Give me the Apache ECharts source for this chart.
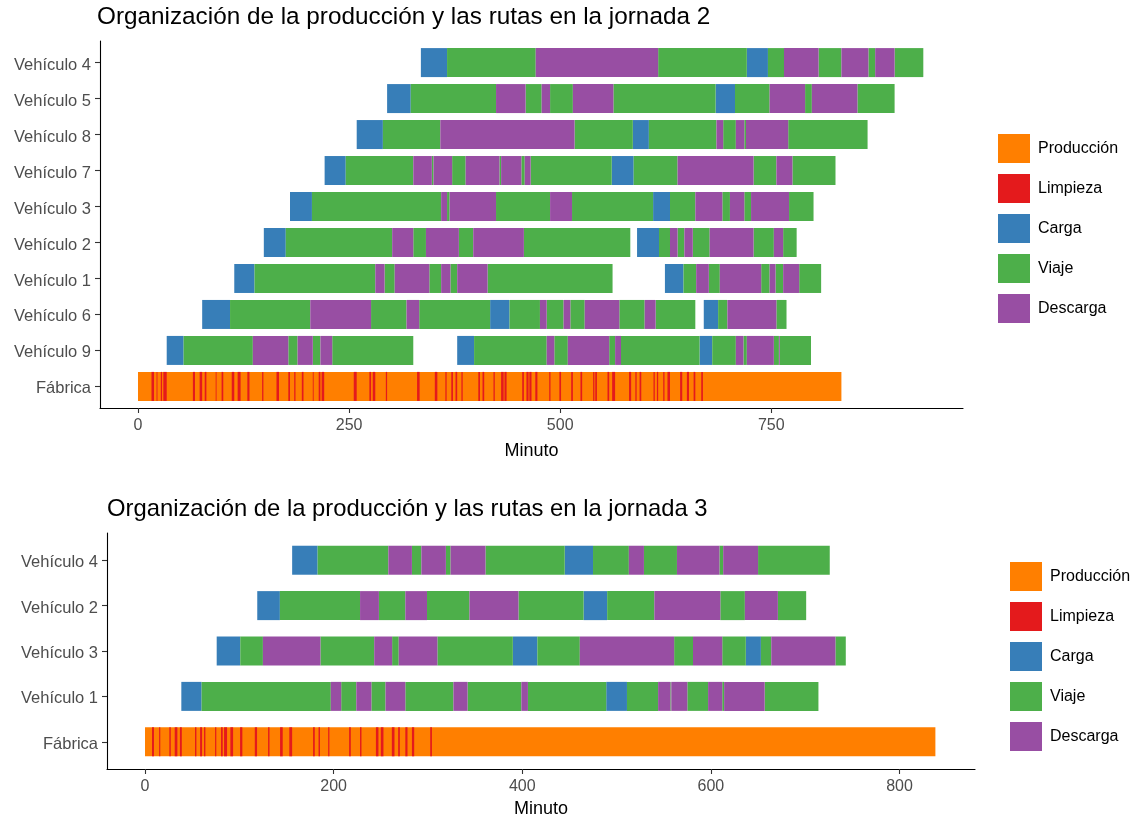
<!DOCTYPE html>
<html>
<head>
<meta charset="utf-8">
<script src="https://cdn.jsdelivr.net/npm/echarts@6/dist/echarts.min.js"></script>
<style>
  html, body { margin: 0; padding: 0; background: #fff; }
  #chart { width: 1134px; height: 822px; }
</style>
</head>
<body>
<div id="chart"></div>
<script>
// Activity types and their colours
const typeNames = ['Producción', 'Limpieza', 'Carga', 'Viaje', 'Descarga'];
const typeColors = ['#FF7F00', '#E41A1C', '#377EB8', '#4DAF4A', '#984EA3'];
// Route codes: C = Carga, V = Viaje, D = Descarga, _ = sin actividad
const codeToType = { C: 'Carga', V: 'Viaje', D: 'Descarga' };

// ---------- Jornada 2 ----------
const rowsJ2 = ['Vehículo 4', 'Vehículo 5', 'Vehículo 8', 'Vehículo 7', 'Vehículo 3',
                'Vehículo 2', 'Vehículo 1', 'Vehículo 6', 'Vehículo 9', 'Fábrica'];
// Each vehicle: change times (minutes) and the activity code between consecutive times
const j2v4 = [335, 366, 471, 616, 721, 746, 765, 806, 833, 865, 873, 896, 930];
const j2v4c = 'CVDVCVDVDVDV';
const j2v5 = [295, 323, 424, 459, 478, 488, 515, 563, 684, 707, 748, 790, 798, 852, 896];
const j2v5c = 'CVDVDVDVCVDVDV';
const j2v8 = [259, 290, 358, 517, 586, 605, 685, 693, 708, 718, 720, 770, 864];
const j2v8c = 'CVDVCVDVDVDV';
const j2v7 = [221, 246, 326, 348, 350, 372, 388, 428, 430, 454, 458, 465, 561, 587, 639, 729, 756, 775, 826];
const j2v7c = 'CVDVDVDVDVDVCVDVDV';
const j2v3 = [180, 206, 359, 366, 369, 424, 488, 514, 610, 630, 660, 692, 701, 718, 726, 771, 800];
const j2v3c = 'CVDVDVDVCVDVDVDV';
const j2v2 = [149, 175, 301, 326, 341, 380, 397, 457, 583, 591, 617, 630, 639, 647, 657, 677, 729, 753, 764, 780];
const j2v2c = 'CVDVDVDV_CVDVDVDVDV';
const j2v1 = [114, 138, 281, 292, 304, 345, 359, 370, 378, 414, 562, 624, 646, 661, 676, 689, 738, 748, 755, 764, 783, 809];
const j2v1c = 'CVDVDVDVDV_CVDVDVDVDV';
const j2v6 = [76, 109, 204, 276, 318, 333, 417, 440, 476, 484, 504, 512, 529, 570, 600, 613, 660, 670, 687, 698, 756, 768];
const j2v6c = 'CVDVDVCVDVDVDVDV_CVDV';
const j2v9 = [34, 54, 136, 178, 189, 207, 216, 230, 326, 378, 398, 484, 493, 509, 558, 565, 572, 665, 680, 708, 717, 721, 753, 759, 760, 797];
const j2v9c = 'CVDVDVDV_CVDVDVDVCVDVDVDV';
// Factory: production span and cleaning intervals [start, end]
const j2Produccion = [0, 833];
const j2Limpieza = [[16,19],[22,23],[27,28.5],[30,34],[65,67.5],[73,76],[79,81],[92,93],[99,101],[111,114],
  [118,121.5],[129.5,132],[147,148.5],[164,167],[178,180],[185,186.5],[194,196],[207,208],[214,216],[217.5,220.5],
  [255.5,259],[274,276],[278,281],[293.5,295],[330.5,333.5],[351.5,354.5],[364,365.5],[371,373],[376,378],[383,384.5],
  [403,405],[408,410],[421,422.5],[430,433],[434,436.5],[455,457],[460,462.5],[463.5,466],[470.5,473],[487,488.5],
  [499,501],[513,515],[524,526],[539,540.5],[541.5,543.5],[556,558],[561.5,565],[581.5,584],[589,590.5],[594,596],
  [610.5,612],[614.5,616],[622,623.5],[627,630],[642,644.5],[650,652.5],[658,660],[667,669]];
const j2Ticks = [0, 250, 500, 750];

// ---------- Jornada 3 ----------
const rowsJ3 = ['Vehículo 4', 'Vehículo 2', 'Vehículo 3', 'Vehículo 1', 'Fábrica'];
const j3v4 = [156, 183, 258, 283, 293, 319, 324, 361, 445, 475, 513, 529, 564, 609, 613, 650, 726];
const j3v4c = 'CVDVDVDVCVDVDVDV';
const j3v2 = [119, 143, 228, 248, 276, 299, 344, 396, 465, 490, 540, 610, 636, 671, 701];
const j3v2c = 'CVDVDVDVCVDVDV';
const j3v3 = [76, 101, 125, 186, 243, 262, 269, 310, 390, 416, 461, 561, 581, 612, 637, 653, 664, 732, 743];
const j3v3c = 'CVDVDVDVCVDVDVCVDV';
const j3v1 = [38.5, 60, 197, 208, 224, 240, 255, 276, 327, 342, 399, 406, 489, 511, 544, 557, 558, 575, 597, 612, 614, 657, 714];
const j3v1c = 'CVDVDVDVDVDVCVDVDVDVDV';
const j3Produccion = [0, 838];
const j3Limpieza = [[7.4,9.5],[15,16.2],[25.8,27.3],[31.5,34.3],[37,39],[53,54.5],[58.4,60.5],[62.6,64],[74.3,75.6],
  [80.6,82.4],[83.8,87],[90.5,93.4],[100.8,103.2],[116.4,118.8],[130.5,132],[143.2,146],[153,156],[178.2,180],
  [184,185.5],[194.2,195.5],[216.4,218.2],[228,229.5],[244.8,247.5],[250,252.8],[261.7,264.5],[268.4,270.2],
  [276,278.3],[283,285.4],[302.4,304.2]];
const j3Ticks = [0, 200, 400, 600, 800];

const FONT = '"Liberation Sans", Arial, sans-serif';
const BAR_H = 29;

// Build segment lists per activity type for one day
function buildDay(rows, vehicles, produccion, limpieza) {
  const byType = {};
  typeNames.forEach(t => byType[t] = []);
  vehicles.forEach(([name, times, codes]) => {
    const r = rows.indexOf(name);
    for (let i = 0; i < codes.length; i++) {
      const t = codeToType[codes[i]];
      if (t) byType[t].push([times[i], times[i + 1], r]);
    }
  });
  const fr = rows.indexOf('Fábrica');
  byType['Producción'].push([produccion[0], produccion[1], fr]);
  limpieza.forEach(([s, e]) => byType['Limpieza'].push([s, e, fr]));
  return byType;
}

const day2 = buildDay(rowsJ2, [
  ['Vehículo 4', j2v4, j2v4c], ['Vehículo 5', j2v5, j2v5c], ['Vehículo 8', j2v8, j2v8c],
  ['Vehículo 7', j2v7, j2v7c], ['Vehículo 3', j2v3, j2v3c], ['Vehículo 2', j2v2, j2v2c],
  ['Vehículo 1', j2v1, j2v1c], ['Vehículo 6', j2v6, j2v6c], ['Vehículo 9', j2v9, j2v9c]
], j2Produccion, j2Limpieza);

const day3 = buildDay(rowsJ3, [
  ['Vehículo 4', j3v4, j3v4c], ['Vehículo 2', j3v2, j3v2c],
  ['Vehículo 3', j3v3, j3v3c], ['Vehículo 1', j3v1, j3v1c]
], j3Produccion, j3Limpieza);

function renderSegment(params, api) {
  const s = api.coord([api.value(0), api.value(2)]);
  const e = api.coord([api.value(1), api.value(2)]);
  const shape = echarts.graphic.clipRectByRect({
    x: s[0], y: s[1] - BAR_H / 2, width: e[0] - s[0], height: BAR_H
  }, {
    x: params.coordSys.x, y: params.coordSys.y,
    width: params.coordSys.width, height: params.coordSys.height
  });
  return shape && { type: 'rect', shape: shape, style: api.style() };
}

const series = [];
[day2, day3].forEach((day, g) => {
  typeNames.forEach((t, k) => {
    series.push({
      type: 'custom',
      name: t,
      xAxisIndex: g,
      yAxisIndex: g,
      renderItem: renderSegment,
      itemStyle: { color: typeColors[k] },
      encode: { x: [0, 1], y: 2 },
      data: day[t],
      z: k === 1 ? 3 : 2
    });
  });
});

function xAxisFor(grid, min, max, ticks, nameGap) {
  return {
    type: 'value', gridIndex: grid, min: min, max: max,
    name: 'Minuto', nameLocation: 'middle', nameGap: nameGap,
    nameTextStyle: { color: '#000', fontSize: 18, fontFamily: FONT },
    axisLine: { show: true, onZero: false, lineStyle: { color: '#000', width: 1.1 } },
    axisTick: { show: true, customValues: ticks, length: 5, lineStyle: { color: '#333', width: 1.1 } },
    axisLabel: { customValues: ticks, color: '#4D4D4D', fontSize: 16, fontFamily: FONT, margin: 10 },
    splitLine: { show: false }
  };
}
function yAxisFor(grid, rows) {
  const idx = rows.map((_, i) => i);
  return {
    type: 'value', gridIndex: grid, min: -0.6, max: rows.length - 0.4, inverse: true,
    axisLine: { show: true, onZero: false, lineStyle: { color: '#000', width: 1.1 } },
    axisTick: { show: true, customValues: idx, length: 5, lineStyle: { color: '#333', width: 1.1 } },
    axisLabel: {
      customValues: idx, color: '#4D4D4D', fontSize: 16.5, fontFamily: FONT, margin: 9,
      verticalAlign: 'top', lineHeight: 5,
      formatter: v => rows[Math.round(v)]
    },
    splitLine: { show: false }
  };
}

function legendAt(left, top) {
  return {
    orient: 'vertical', left: left, top: top, padding: 0,
    itemWidth: 32, itemHeight: 29, itemGap: 11, icon: 'rect',
    selectedMode: false,
    data: typeNames,
    textStyle: { color: '#000', fontSize: 16, fontFamily: FONT, padding: [0, 0, 0, 3] }
  };
}

const chart = echarts.init(document.getElementById('chart'), null, { renderer: 'canvas' });
chart.setOption({
  animation: false,
  backgroundColor: '#fff',
  title: [
    { text: 'Organización de la producción y las rutas en la jornada 2', left: 97, top: 5, padding: 0,
      textStyle: { color: '#000', fontSize: 24.3, fontWeight: 'normal', fontFamily: FONT } },
    { text: 'Organización de la producción y las rutas en la jornada 3', left: 107, top: 497, padding: 0,
      textStyle: { color: '#000', fontSize: 23.8, fontWeight: 'normal', fontFamily: FONT } }
  ],
  legend: [legendAt(998, 134), legendAt(1010, 562)],
  grid: [
    { left: 100, top: 41, width: 863, height: 367 },
    { left: 107, top: 533, width: 868, height: 236 }
  ],
  xAxis: [xAxisFor(0, -45, 977, j2Ticks, 34), xAxisFor(1, -40.3, 880, j3Ticks, 31)],
  yAxis: [yAxisFor(0, rowsJ2), yAxisFor(1, rowsJ3)],
  series: series
});
</script>
</body>
</html>
